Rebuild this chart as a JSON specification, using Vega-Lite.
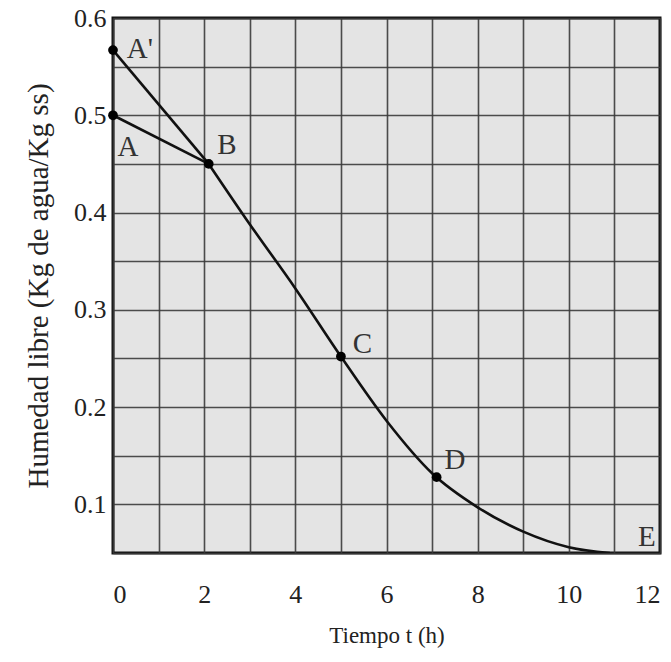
{
  "$schema": "https://vega.github.io/schema/vega-lite/v6.json",
  "width": 547,
  "height": 535,
  "autosize": "none",
  "padding": {"left": 113, "top": 18, "right": 11, "bottom": 109},
  "background": "white",
  "config": {
    "font": "Liberation Serif",
    "view": {"fill": "#e4e4e4", "stroke": "#111", "strokeWidth": 3},
    "text": {"font": "Liberation Serif"},
    "axis": {
      "grid": true,
      "gridColor": "#3a3a3a",
      "gridWidth": 1.6,
      "gridOpacity": 0.9,
      "domain": false,
      "ticks": false,
      "labelFont": "Liberation Serif",
      "labelFontSize": 26,
      "labelColor": "#222",
      "titleFont": "Liberation Serif",
      "titleFontWeight": "normal",
      "titleColor": "#222"
    }
  },
  "datasets": {
    "curve": [
      {"t": 2.1, "h": 0.45},
      {"t": 3, "h": 0.388},
      {"t": 4, "h": 0.322},
      {"t": 5, "h": 0.252},
      {"t": 6, "h": 0.186},
      {"t": 7, "h": 0.132},
      {"t": 8, "h": 0.097},
      {"t": 9, "h": 0.072},
      {"t": 10, "h": 0.056},
      {"t": 10.9, "h": 0.05}
    ],
    "straight": [
      {"seg": "A'B", "t": 0, "h": 0.567},
      {"seg": "A'B", "t": 2.1, "h": 0.45},
      {"seg": "AB", "t": 0, "h": 0.5},
      {"seg": "AB", "t": 2.1, "h": 0.45}
    ],
    "pts": [
      {"t": 0, "h": 0.567},
      {"t": 0, "h": 0.5},
      {"t": 2.1, "h": 0.45},
      {"t": 5, "h": 0.252},
      {"t": 7.1, "h": 0.128}
    ],
    "labels": [
      {"label": "A'", "lt": 0.59, "lh": 0.570},
      {"label": "A", "lt": 0.33, "lh": 0.469},
      {"label": "B", "lt": 2.5, "lh": 0.471},
      {"label": "C", "lt": 5.47, "lh": 0.267},
      {"label": "D", "lt": 7.5, "lh": 0.148},
      {"label": "E", "lt": 11.71, "lh": 0.068}
    ]
  },
  "layer": [
    {
      "data": {"name": "curve"},
      "mark": {"type": "line", "interpolate": "monotone", "color": "#111", "strokeWidth": 2.6, "clip": true},
      "encoding": {
        "x": {
          "field": "t", "type": "quantitative",
          "scale": {"domain": [0, 12], "nice": false, "zero": false},
          "axis": {
            "values": [0,1,2,3,4,5,6,7,8,9,10,11,12],
            "labelExpr": "datum.value % 2 == 0 ? datum.label : ''",
            "labelFont": "Liberation Serif",
            "labelPadding": 28,
            "title": "Tiempo t (h)",
            "titleFont": "Liberation Serif",
            "titleFontSize": 23,
            "titlePadding": 17
          }
        },
        "y": {
          "field": "h", "type": "quantitative",
          "scale": {"domain": [0.05, 0.6], "nice": false, "zero": false},
          "axis": {
            "values": [0.05,0.1,0.15,0.2,0.25,0.3,0.35,0.4,0.45,0.5,0.55,0.6],
            "format": ".1f",
            "labelExpr": "abs(datum.value*10 - round(datum.value*10)) < 0.01 ? datum.label : ''",
            "labelFont": "Liberation Serif",
            "labelPadding": 7,
            "title": "Humedad libre (Kg de agua/Kg ss)",
            "titleFont": "Liberation Serif",
            "titleFontSize": 29,
            "titlePadding": 20
          }
        }
      }
    },
    {
      "data": {"name": "straight"},
      "mark": {"type": "line", "color": "#111", "strokeWidth": 2.6},
      "encoding": {
        "x": {"field": "t", "type": "quantitative"},
        "y": {"field": "h", "type": "quantitative"},
        "detail": {"field": "seg"}
      }
    },
    {
      "data": {"name": "pts"},
      "mark": {"type": "point", "filled": true, "color": "#000", "size": 95, "opacity": 1},
      "encoding": {
        "x": {"field": "t", "type": "quantitative"},
        "y": {"field": "h", "type": "quantitative"}
      }
    },
    {
      "data": {"name": "labels"},
      "mark": {"type": "text", "font": "Liberation Serif", "fontSize": 29, "color": "#333", "align": "center", "baseline": "middle", "dy": 2},
      "encoding": {
        "x": {"field": "lt", "type": "quantitative"},
        "y": {"field": "lh", "type": "quantitative"},
        "text": {"field": "label"}
      }
    }
  ]
}
